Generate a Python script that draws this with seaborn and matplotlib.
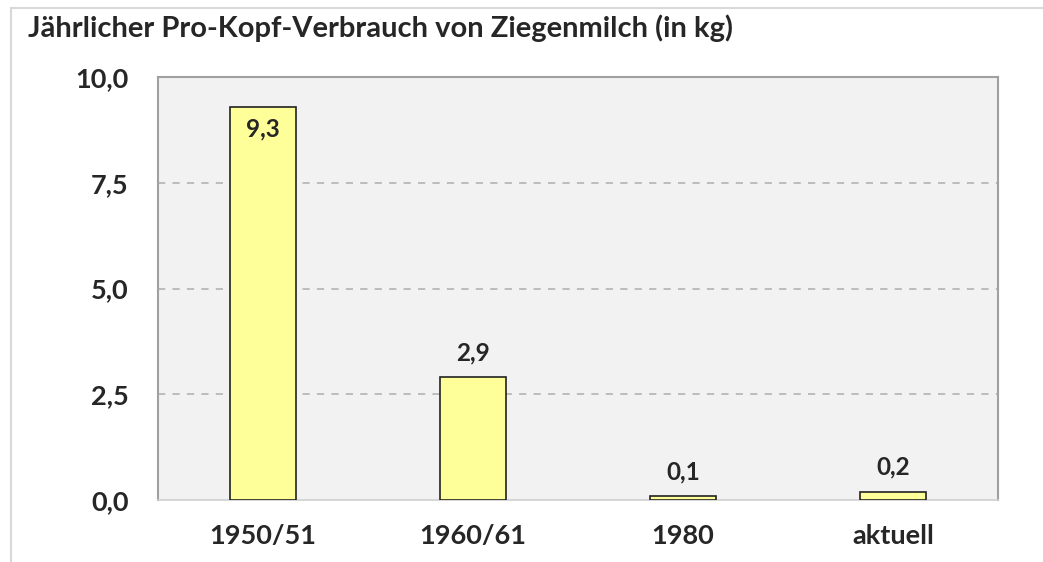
import matplotlib
matplotlib.use("Agg")
import matplotlib.pyplot as plt
import seaborn as sns
import pandas as pd
from matplotlib.patches import Rectangle

# Daten
jahre = ["1950/51", "1960/61", "1980", "aktuell"]
verbrauch = [9.3, 2.9, 0.1, 0.2]
y_ticks = [0.0, 2.5, 5.0, 7.5, 10.0]

df = pd.DataFrame({"Jahr": jahre, "kg": verbrauch})

sns.set_style("white")
plt.rcParams["font.family"] = ["Lato", "DejaVu Sans"]

fig = plt.figure(figsize=(10.43, 5.62), dpi=100)
ax = fig.add_axes([0.1515, 0.1103, 0.8055, 0.7527])

sns.barplot(data=df, x="Jahr", y="kg", color="#FFFF99", edgecolor="#222222",
            linewidth=1.2, width=0.315, saturation=1, ax=ax, zorder=3)

ax.set_facecolor("#F2F2F2")
ax.set_ylim(0, 10)
ax.set_xlim(-0.5, 3.5)
ax.set_yticks(y_ticks)
ax.set_yticklabels([f"{t:.1f}".replace(".", ",") for t in y_ticks])
for t in y_ticks[1:-1]:
    ax.axhline(t, color="#B8B8B8", linestyle=(0, (4, 4)), linewidth=1.3, zorder=1)

for side in ["top", "left", "right"]:
    ax.spines[side].set_color("#A0A0A0")
    ax.spines[side].set_linewidth(1.5)
ax.spines["bottom"].set_color("#D0D0D0")
ax.spines["bottom"].set_linewidth(1.2)

ax.tick_params(axis="both", length=0, labelsize=19.5)
ax.tick_params(axis="y", pad=21)
ax.tick_params(axis="x", pad=17)
for lbl in ax.get_xticklabels() + ax.get_yticklabels():
    lbl.set_fontweight("bold")
ax.set_xlabel("")
ax.set_ylabel("")

# Werte beschriften
for i, v in enumerate(verbrauch):
    txt = f"{v:.1f}".replace(".", ",")
    if v > 5:
        ax.text(i, v - 0.25, txt, ha="center", va="top", fontsize=17.5, fontweight="bold", zorder=4)
    else:
        ax.text(i, v + 0.3, txt, ha="center", va="bottom", fontsize=17.5, fontweight="bold", zorder=4)

fig.text(0.027, 0.935, "Jährlicher Pro-Kopf-Verbrauch von Ziegenmilch (in kg)",
         fontsize=21, fontweight="bold", ha="left", va="baseline")

# heller Rahmen, rechts und unten abgeschnitten
fig.add_artist(Rectangle((0.011, -0.1), 1.2, 1.086, transform=fig.transFigure,
                         fill=False, edgecolor="#D8D8D8", linewidth=1.5))

fig.savefig("out.png", dpi=100)
